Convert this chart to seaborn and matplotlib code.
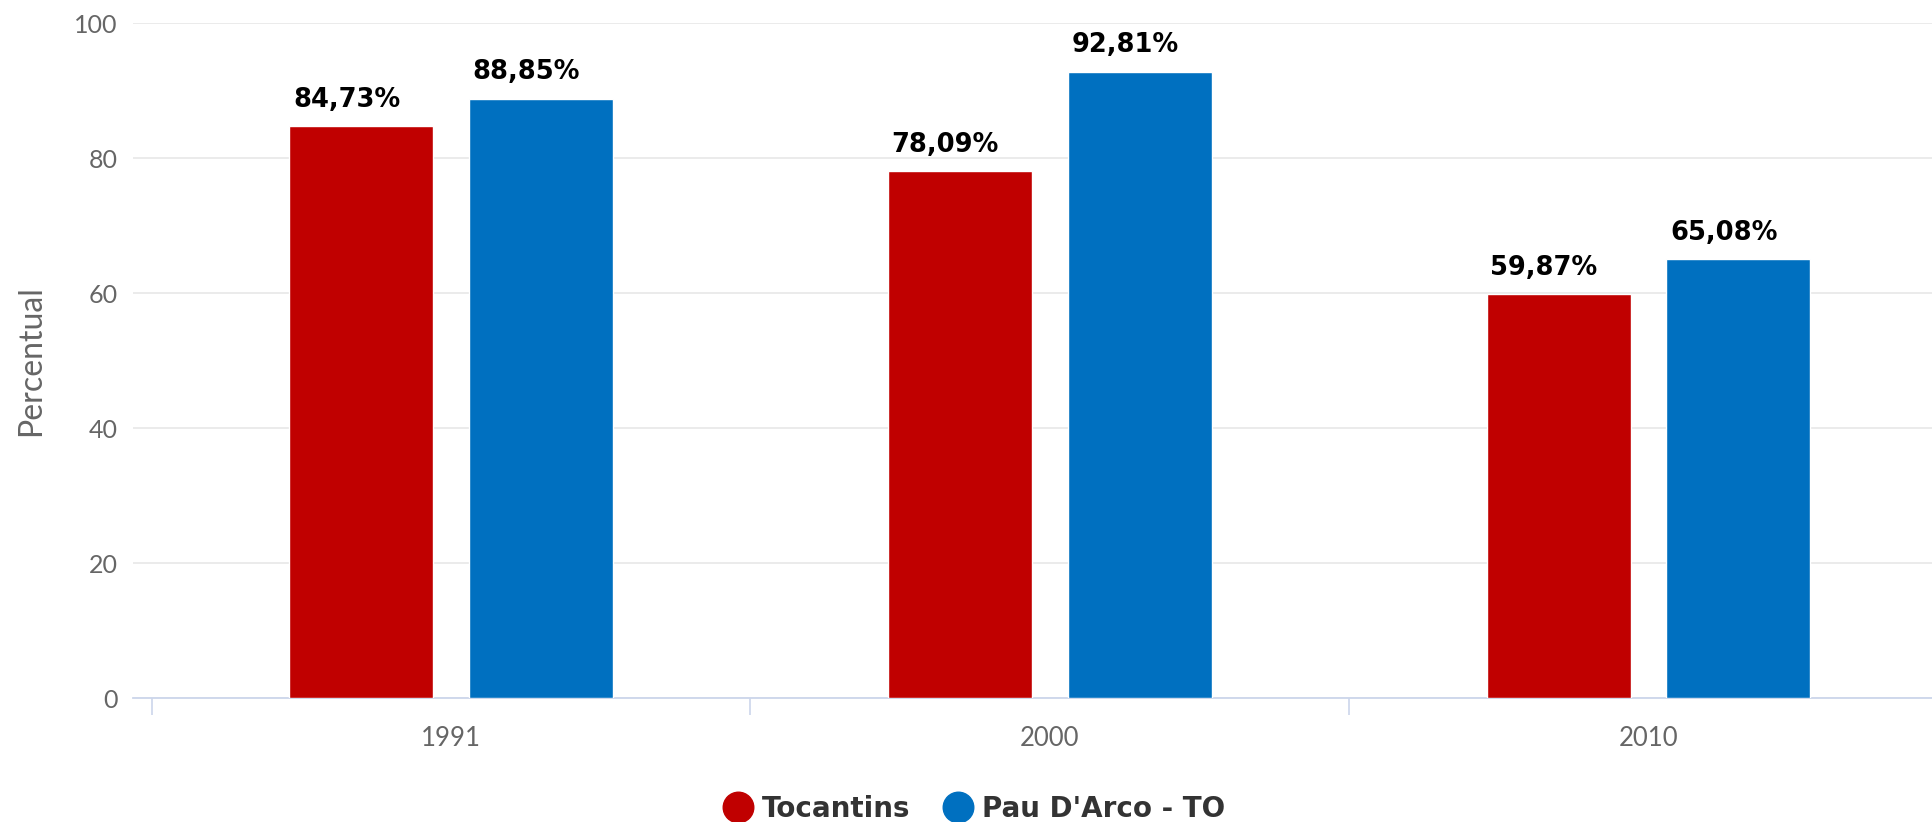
import matplotlib
matplotlib.use("Agg")
import matplotlib.pyplot as plt
from matplotlib.lines import Line2D
import seaborn as sns
import pandas as pd

# Data
years = ["1991", "2000", "2010"]
regions = ["Tocantins", "Pau D'Arco - TO"]
tocantins = [84.73, 78.09, 59.87]
pau_darco = [88.85, 92.81, 65.08]
colors = ["#c00000", "#0070c0"]
y_ticks = [0, 20, 40, 60, 80, 100]

df = pd.DataFrame({
    "Ano": years * 2,
    "Região": [regions[0]] * len(years) + [regions[1]] * len(years),
    "Percentual": tocantins + pau_darco,
})

sns.set_theme(style="white")
plt.rcParams["font.family"] = ["Lato", "DejaVu Sans"]

fig = plt.figure(figsize=(19.32, 8.22), dpi=100)
ax = fig.add_axes([0.0689, 0.1508, 0.9311, 0.8207])

sns.barplot(data=df, x="Ano", y="Percentual", hue="Região", order=years,
            hue_order=regions, palette=colors, width=0.6, gap=0.198,
            saturation=1, legend=False, ax=ax, zorder=3)

ax.set_yticks(y_ticks)
ax.set_yticklabels([str(t) for t in y_ticks], fontsize=18, color="#666666")
ax.tick_params(axis="y", left=False, length=0, pad=11)
ax.tick_params(axis="x", which="major", bottom=False, length=0, pad=20,
               labelsize=18.5, labelcolor="#666666")
# Category boundary ticks
ax.set_xticks([i - 0.5 for i in range(len(years) + 1)], minor=True)
ax.tick_params(axis="x", which="minor", bottom=True, length=12, width=1.2,
               color="#ccd6eb")
ax.set_ylim(0, 100)
ax.set_xlim(-0.531, 2.4735)

ax.grid(axis="y", color="#e6e6e6", linewidth=1.1, zorder=0)
ax.set_axisbelow(True)
for side in ["top", "right", "left"]:
    ax.spines[side].set_visible(False)
ax.spines["bottom"].set_color("#ccd6eb")
ax.spines["bottom"].set_linewidth(1.3)

ax.set_xlabel("")
ax.set_ylabel("Percentual", fontsize=23, color="#666666")
ax.yaxis.set_label_coords(-0.0567, 0.5)
ax.yaxis.label.set_verticalalignment("center")

# Value labels, left-aligned over each bar
for container in ax.containers:
    for bar in container:
        h = bar.get_height()
        label = f"{h:.2f}".replace(".", ",") + "%"
        ax.annotate(label, (bar.get_x(), h), xytext=(2.7, 14),
                    textcoords="offset points", ha="left", va="baseline",
                    fontsize=18.5, fontweight="bold", color="#000000",
                    family="DejaVu Sans")

handles = [Line2D([0], [0], marker="o", linestyle="", markersize=22,
                  markerfacecolor=c, markeredgecolor=c) for c in colors]
fig.legend(handles, regions, loc="center", bbox_to_anchor=(0.504, 0.016),
           ncol=2, frameon=False, handletextpad=0.27, columnspacing=1.15,
           handlelength=1.15,
           prop={"size": 20, "weight": "bold", "family": "DejaVu Sans"},
           labelcolor="#333333")

fig.savefig("out.png", dpi=100)
